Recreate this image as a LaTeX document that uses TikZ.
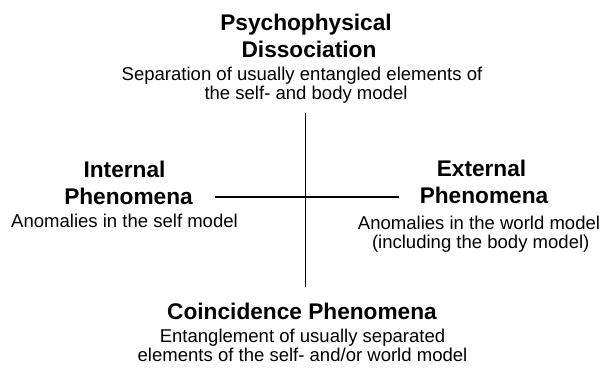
\documentclass[tikz,border=0pt]{standalone}
\usepackage{fontspec}
\setmainfont{Liberation Sans}
\begin{document}
\begin{tikzpicture}[x=0.75pt,y=-0.75pt,
  ttl/.style={anchor=base,inner sep=0pt,font=\fontsize{17}{20}\selectfont\bfseries},
  dsc/.style={anchor=base,inner sep=0pt,font=\fontsize{13.9}{16}\selectfont},
  axis/.style={line width=0.8pt,black}]
\useasboundingbox (0,0) rectangle (609,367);
% top
\node[ttl] (t1) at (306,31) {Psychophysical};
\node[ttl] (t2) at (309,58) {Dissociation};
\node[dsc] (t3) at (302,81) {Separation of usually entangled elements of};
\node[dsc] (t4) at (306,99.5) {the self- and body model};
% left
\node[ttl] (l1) at (124.5,177.3) {Internal};
\node[ttl] (l2) at (128.5,204) {Phenomena};
\node[dsc] (l3) at (124.5,227.3) {Anomalies in the self model};
% right
\node[ttl] (r1) at (481.5,176.7) {External};
\node[ttl] (r2) at (484,203.3) {Phenomena};
\node[dsc] (r3) at (479,229.3) {Anomalies in the world model};
\node[dsc] (r4) at (480.7,248) {(including the body model)};
% bottom
\node[ttl] (b1) at (302,319.3) {Coincidence Phenomena};
\node[dsc] (b2) at (302.5,342.7) {Entanglement of usually separated};
\node[dsc] (b3) at (302.5,361.7) {elements of the self- and/or world model};
% axes
\coordinate (vt) at (305.7,112.7);
\coordinate (vb) at (305.7,286.7);
\coordinate (hl) at (215,197);
\coordinate (hr) at (399,197);
\draw[axis] (vt) -- (vb);
\draw[axis] (hl) -- (hr);
\end{tikzpicture}
\end{document}
